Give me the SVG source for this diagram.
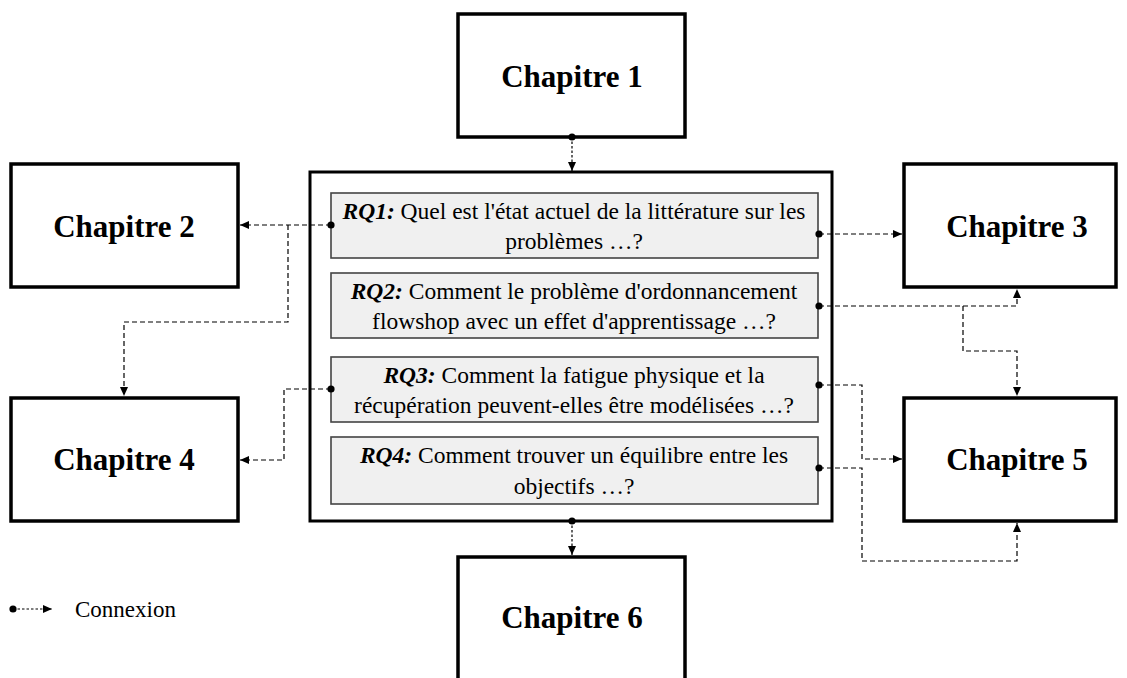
<svg xmlns="http://www.w3.org/2000/svg" width="1127" height="678" viewBox="0 0 1127 678">
<defs>
<marker id="arr" markerWidth="10" markerHeight="8" refX="9" refY="4" orient="auto" markerUnits="userSpaceOnUse">
<path d="M0,0 L9,4 L0,8 Z" fill="#000"/>
</marker>
<marker id="dot" markerWidth="8" markerHeight="8" refX="4" refY="4" markerUnits="userSpaceOnUse">
<circle cx="4" cy="4" r="3.6" fill="#000"/>
</marker>
<style>
.ch{fill:#fff;stroke:#000;stroke-width:3.5}
.chT{font-family:"Liberation Serif","Times New Roman",serif;font-weight:bold;font-size:31px;text-anchor:middle;fill:#000}
.main{fill:#fff;stroke:#000;stroke-width:3}
.rq{fill:#f0f0f0;stroke:#444;stroke-width:1.6}
.rqT{font-family:"Liberation Serif","Times New Roman",serif;font-size:23.5px;text-anchor:middle;fill:#000}
.b{font-weight:bold;font-style:italic}
.c{fill:none;stroke:#000;stroke-width:1.2;stroke-dasharray:5 3}
.cs{fill:none;stroke:#000;stroke-width:1.2;stroke-dasharray:2.5 2}
.lg{font-family:"Liberation Serif","Times New Roman",serif;font-size:23px;fill:#000}
</style>
</defs>
<rect width="1127" height="678" fill="#fff"/>

<g id="main">
<rect class="main" x="310" y="172" width="522" height="349"/>
</g>
<g id="rq1">
<rect class="rq" x="331" y="193" width="487" height="65"/>
<text class="rqT" x="574" y="219"><tspan class="b">RQ1:</tspan> Quel est l'état actuel de la littérature sur les</text>
<text class="rqT" x="574" y="249">problèmes …?</text>
</g>
<g id="rq2">
<rect class="rq" x="331" y="273" width="487" height="65"/>
<text class="rqT" x="574" y="299"><tspan class="b">RQ2:</tspan> Comment le problème d'ordonnancement</text>
<text class="rqT" x="574" y="329">flowshop avec un effet d'apprentissage …?</text>
</g>
<g id="rq3">
<rect class="rq" x="331" y="357" width="487" height="65"/>
<text class="rqT" x="574" y="383"><tspan class="b">RQ3:</tspan> Comment la fatigue physique et la</text>
<text class="rqT" x="574" y="413">récupération peuvent-elles être modélisées …?</text>
</g>
<g id="rq4">
<rect class="rq" x="331" y="437" width="487" height="67"/>
<text class="rqT" x="574" y="463"><tspan class="b">RQ4:</tspan> Comment trouver un équilibre entre les</text>
<text class="rqT" x="574" y="494">objectifs …?</text>
</g>

<g id="chapitre1">
<rect class="ch" x="458" y="14" width="227" height="123"/>
<text class="chT" x="572" y="87">Chapitre 1</text>
</g>
<g id="chapitre2">
<rect class="ch" x="11" y="164" width="227" height="123"/>
<text class="chT" x="124" y="237">Chapitre 2</text>
</g>
<g id="chapitre3">
<rect class="ch" x="904" y="164" width="212" height="123"/>
<text class="chT" x="1017" y="237">Chapitre 3</text>
</g>
<g id="chapitre4">
<rect class="ch" x="11" y="398" width="227" height="123"/>
<text class="chT" x="124" y="470">Chapitre 4</text>
</g>
<g id="chapitre5">
<rect class="ch" x="904" y="398" width="212" height="123"/>
<text class="chT" x="1017" y="470">Chapitre 5</text>
</g>
<g id="chapitre6">
<rect class="ch" x="458" y="557" width="227" height="140"/>
<text class="chT" x="572" y="628">Chapitre 6</text>
</g>

<g id="connectors">
<path class="cs" d="M572,137 V171" marker-start="url(#dot)" marker-end="url(#arr)"/>
<path class="c" d="M331,225 H240" marker-start="url(#dot)" marker-end="url(#arr)"/>
<path class="c" d="M288,225 V322 H124 V396" marker-end="url(#arr)"/>
<path class="c" d="M819,234 H902" marker-start="url(#dot)" marker-end="url(#arr)"/>
<path class="c" d="M819,306 H1017 V289" marker-start="url(#dot)" marker-end="url(#arr)"/>
<path class="c" d="M963,306 V351 H1017 V396" marker-end="url(#arr)"/>
<path class="c" d="M331,389 H284 V460 H240" marker-start="url(#dot)" marker-end="url(#arr)"/>
<path class="c" d="M819,385 H862 V459 H902" marker-start="url(#dot)" marker-end="url(#arr)"/>
<path class="c" d="M819,468 H862 V561 H1017 V523" marker-start="url(#dot)" marker-end="url(#arr)"/>
<path class="cs" d="M572,521 V555" marker-start="url(#dot)" marker-end="url(#arr)"/>
</g>

<g id="legend">
<path class="cs" d="M13,609 H52" marker-start="url(#dot)" marker-end="url(#arr)"/>
<text class="lg" x="75" y="617">Connexion</text>
</g>
</svg>
